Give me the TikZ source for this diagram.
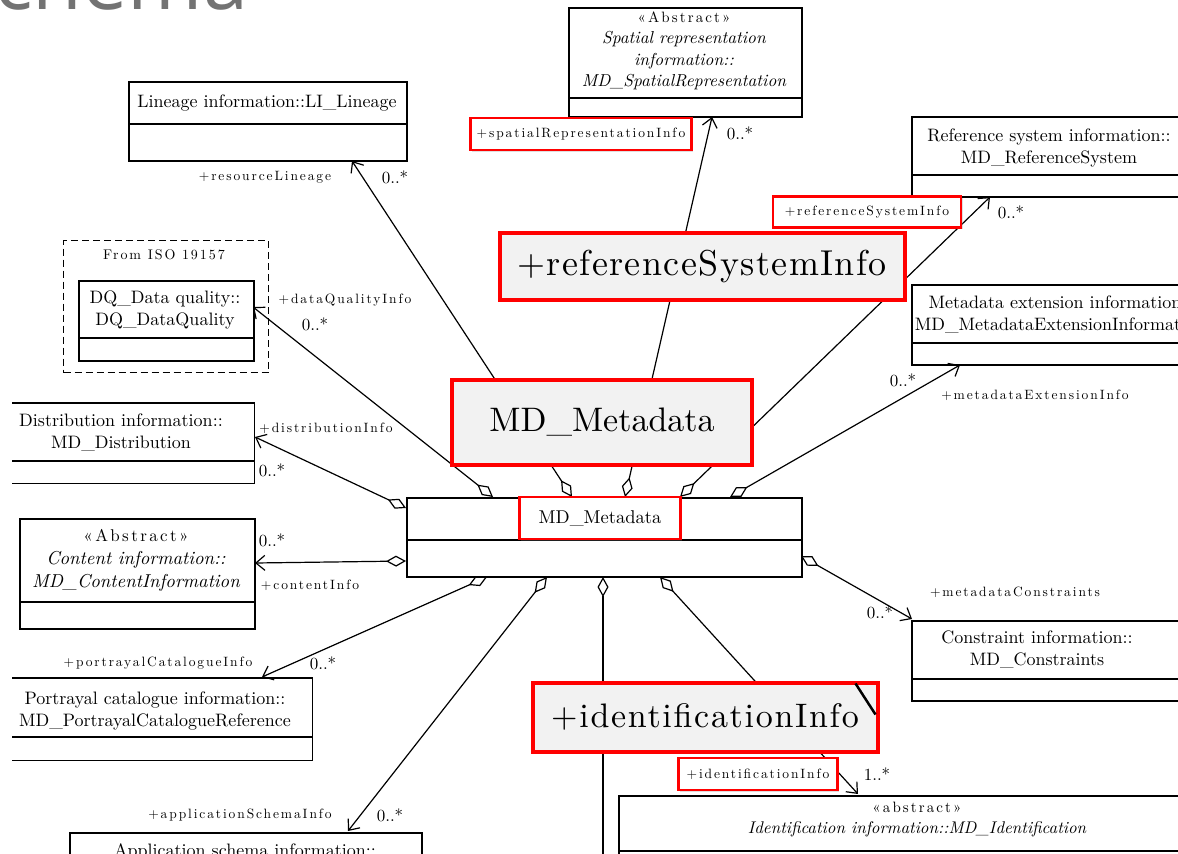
\documentclass[tikz,border=0pt]{standalone}
\usepackage{fontspec}
\setmainfont{lmroman10}[Extension=.otf,UprightFont=*-regular,ItalicFont=*-italic,BoldFont=*-bold,BoldItalicFont=*-bolditalic]
\setsansfont{Open Sans}
\usetikzlibrary{arrows.meta,shadows}
\newcommand\lsp{\addfontfeature{LetterSpace=14}}
\begin{document}
\begin{tikzpicture}[x=1pt,y=-1pt,
  cls/.style={draw=black,line width=1.6pt,anchor=north west,inner sep=0pt},
  ctext/.style={font=\fontsize{18}{22}\selectfont,align=center,inner sep=0pt},
  lab/.style={font=\fontsize{13.5}{14}\selectfont\lsp,inner sep=0pt},
  mult/.style={font=\fontsize{17}{17}\selectfont,inner sep=0pt},
  assoc/.style={line width=1.2pt,{Diamond[open,length=20pt,width=11pt,line width=1.2pt]}-{Straight Barb[length=9pt,width=15pt,line width=1.2pt]}},
  redbox/.style={draw=red,line width=2.2pt,fill=white,inner sep=0pt,drop shadow={shadow xshift=1.5pt,shadow yshift=-1.5pt,opacity=0.25}},
  callout/.style={draw=red,line width=4pt,fill=black!5,inner sep=0pt,drop shadow={shadow xshift=2pt,shadow yshift=-2pt,opacity=0.3}}
]
\useasboundingbox (0,0) rectangle (1178,854);
\fill[white] (0,0) rectangle (1178,854);

% title fragment
\node[anchor=base west,inner sep=0pt,text=black!55,font=\fontsize{81}{81}\sffamily] (title) at (-6,9) {chema};

% ---------- class boxes ----------
\node[cls,minimum width=233pt,minimum height=109pt] (sp) at (568,7) {};
\draw[line width=1.6pt] ([yshift=-91pt]sp.north west) -- ([yshift=-91pt]sp.north east);
\node[ctext,font=\fontsize{17.3}{21.5}\selectfont\itshape] (spt) at (684,51) {{\upshape\fontsize{15}{21.5}\selectfont\lsp «Abstract»}\\Spatial representation\\information::\\MD\_SpatialRepresentation};

\node[cls,minimum width=278pt,minimum height=79pt] (lin) at (128,81) {};
\draw[line width=1.6pt] ([yshift=-43pt]lin.north west) -- ([yshift=-43pt]lin.north east);
\node[ctext] (lint) at (267,103) {Lineage information::LI\_Lineage};

\node[cls,minimum width=300pt,minimum height=80pt] (ref) at (911,116) {};
\draw[line width=1.6pt] ([yshift=-59pt]ref.north west) -- ([yshift=-59pt]ref.north east);
\node[ctext] (reft) at (1049,148) {Reference system information::\\MD\_ReferenceSystem};

\node[cls,minimum width=300pt,minimum height=80pt] (ext) at (911,284) {};
\draw[line width=1.6pt] ([yshift=-59pt]ext.north west) -- ([yshift=-59pt]ext.north east);
\node[ctext] (extt) at (1060,314) {Metadata extension information::\\MD\_MetadataExtensionInformation};

\node[draw=black,dash pattern=on 7pt off 4pt,line width=1.1pt,anchor=north west,minimum width=205pt,minimum height=132pt,inner sep=0pt] (iso) at (63,240) {};
\node[lab,font=\fontsize{14}{14}\selectfont\lsp] (isot) at (164,255) {From ISO 19157};
\node[cls,minimum width=175pt,minimum height=80pt] (dq) at (78,280) {};
\draw[line width=1.6pt] ([yshift=-58pt]dq.north west) -- ([yshift=-58pt]dq.north east);
\node[ctext] (dqt) at (165,310) {DQ\_Data quality::\\DQ\_DataQuality};

\node[anchor=north west,minimum width=242pt,minimum height=80pt,inner sep=0pt] (dist) at (12,403) {};
\draw[line width=1.6pt] (dist.north west) -- (dist.north east) -- (dist.south east) -- (dist.south west);
\draw[line width=1.6pt] ([yshift=-58pt]dist.north west) -- ([yshift=-58pt]dist.north east);
\node[ctext] (distt) at (121,432) {Distribution information::\\MD\_Distribution};

\node[cls,minimum width=235pt,minimum height=110pt] (cont) at (19,518) {};
\draw[line width=1.6pt] ([yshift=-84pt]cont.north west) -- ([yshift=-84pt]cont.north east);
\node[ctext,font=\fontsize{18.7}{23}\selectfont\itshape] (contt) at (136,560) {{\upshape\fontsize{17}{23}\selectfont\lsp «Abstract»}\\Content information::\\MD\_ContentInformation};

\node[cls,minimum width=395pt,minimum height=79pt] (md) at (406,497) {};
\draw[line width=1.6pt] ([yshift=-43pt]md.north west) -- ([yshift=-43pt]md.north east);

\node[cls,minimum width=300pt,minimum height=80pt] (con) at (911,620) {};
\draw[line width=1.6pt] ([yshift=-59pt]con.north west) -- ([yshift=-59pt]con.north east);
\node[ctext] (cont2) at (1037,649) {Constraint information::\\MD\_Constraints};

\node[anchor=north west,minimum width=300pt,minimum height=82pt,inner sep=0pt] (por) at (12,678) {};
\draw[line width=1.6pt] (por.north west) -- (por.north east) -- (por.south east) -- (por.south west);
\draw[line width=1.6pt] ([yshift=-59pt]por.north west) -- ([yshift=-59pt]por.north east);
\node[ctext] (port) at (155,711) {Portrayal catalogue information::\\MD\_PortrayalCatalogueReference};

\node[cls,minimum width=352pt,minimum height=60pt] (app) at (69,832) {};
\node[ctext] (appt) at (245,852) {Application schema information::};

\node[cls,minimum width=600pt,minimum height=80pt] (idn) at (618,795) {};
\draw[line width=1.6pt] ([yshift=-56pt]idn.north west) -- ([yshift=-56pt]idn.north east);
\node[ctext,font=\fontsize{16.9}{21}\selectfont\itshape] (idnt) at (917,820) {{\upshape\fontsize{15}{21}\selectfont\lsp «abstract»}\\Identification information::MD\_Identification};

% ---------- connector end points ----------
\coordinate (aDQ) at (493,497);   \coordinate (tDQ) at (253,307);
\coordinate (aLin) at (572,497);  \coordinate (tLin) at (352,161);
\coordinate (aSp) at (625,497);   \coordinate (tSp) at (712,117);
\coordinate (aRef) at (680,497);  \coordinate (tRef) at (990,197);
\coordinate (aExt) at (730,497);  \coordinate (tExt) at (960,365);
\coordinate (aDist) at (406,508); \coordinate (tDist) at (255,437);
\coordinate (aCont) at (406,561); \coordinate (tCont) at (255,563);
\coordinate (aCon) at (801,556);  \coordinate (tCon) at (912,619);
\coordinate (aPor) at (487,577);  \coordinate (tPor) at (262,677);
\coordinate (aApp) at (547,577);  \coordinate (tApp) at (348,831);
\coordinate (aVer) at (603,577);  \coordinate (tVer) at (603,860);
\coordinate (aIdn) at (660,577);  \coordinate (tIdn) at (858,794);

\draw[assoc] (aDQ) -- (tDQ);
\draw[assoc] (aLin) -- (tLin);
\draw[assoc] (aSp) -- (tSp);
\draw[assoc] (aRef) -- (tRef);
\draw[assoc] (aExt) -- (tExt);
\draw[assoc] (aDist) -- (tDist);
\draw[assoc] (aCont) -- (tCont);
\draw[assoc] (aCon) -- (tCon);
\draw[assoc] (aPor) -- (tPor);
\draw[assoc] (aApp) -- (tApp);
\draw[line width=1.2pt,{Diamond[open,length=20pt,width=11pt,line width=1.2pt]}-] (aVer) -- (tVer);
\draw[assoc] (aIdn) -- (tIdn);

% ---------- role labels and multiplicities ----------
\node[lab] (lRes) at (265,177) {+resourceLineage};
\node[mult] (mRes) at (395,177) {0..*};
\node[mult] (mSp) at (740,133) {0..*};
\node[mult] (mRef) at (1011,212) {0..*};
\node[lab] (lDQ) at (345,300) {+dataQualityInfo};
\node[mult] (mDQ) at (315,324) {0..*};
\node[mult] (mExt) at (903,380) {0..*};
\node[lab] (lExt) at (1035,395) {+metadataExtensionInfo};
\node[lab] (lDist) at (326,428) {+distributionInfo};
\node[mult] (mDist) at (272,470) {0..*};
\node[mult] (mCont) at (272,540) {0..*};
\node[lab] (lCont) at (310,585) {+contentInfo};
\node[lab] (lCon) at (1015,592) {+metadataConstraints};
\node[mult] (mCon) at (880,612) {0..*};
\node[lab] (lPor) at (158,663) {+portrayalCatalogueInfo};
\node[mult] (mPor) at (323,663) {0..*};
\node[mult] (mIdn) at (877,774) {1..*};
\node[lab] (lApp) at (240,815) {+applicationSchemaInfo};
\node[mult] (mApp) at (390,815) {0..*};

% ---------- highlight boxes ----------
\node[redbox,minimum width=221pt,minimum height=32pt,font=\fontsize{13.5}{14}\selectfont\lsp] (hSp) at (581,134) {+spatialRepresentationInfo};
\node[redbox,minimum width=188pt,minimum height=31pt,font=\fontsize{13.5}{14}\selectfont\lsp] (hRef) at (867,212) {+referenceSystemInfo};
\node[redbox,minimum width=159pt,minimum height=32pt,font=\fontsize{13.5}{14}\selectfont\lsp] (hIdn) at (758,774) {+identificationInfo};
\node[redbox,line width=2.6pt,minimum width=161pt,minimum height=42pt,font=\fontsize{18.5}{20}\selectfont] (hMd) at (600,518) {MD\_Metadata};

\node[callout,minimum width=405pt,minimum height=67pt,font=\fontsize{36}{38}\selectfont\addfontfeature{LetterSpace=4}] (cRef) at (702,266) {+referenceSystemInfo};
\node[callout,minimum width=300pt,minimum height=85pt,font=\fontsize{34}{40}\selectfont] (cMd) at (602,422) {MD\_Metadata};
\node[callout,minimum width=345pt,minimum height=69pt,font=\fontsize{34}{36}\selectfont\addfontfeature{LetterSpace=5}] (cIdn) at (705,717) {+identificationInfo};
\draw[line width=2.5pt] ([xshift=-24pt,yshift=-3pt]cIdn.north east) -- ([xshift=-4pt,yshift=-34pt]cIdn.north east);
\end{tikzpicture}
\end{document}
